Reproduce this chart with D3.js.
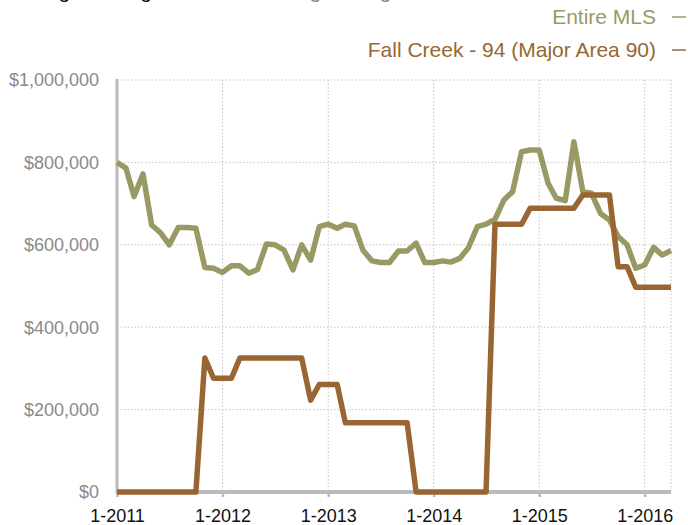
<!DOCTYPE html>
<html>
<head>
<meta charset="utf-8">
<script src="https://cdnjs.cloudflare.com/ajax/libs/d3/7.8.5/d3.min.js"></script>
<style>
  body { margin: 0; background: #fff; }
  svg { display: block; font-family: "Liberation Sans", Arial, sans-serif; }
</style>
</head>
<body>
<svg id="chart" width="688" height="525"></svg>
<script>
// monthly values, Jan 2011 .. Apr 2016 (thousands of $)
var entireMLS = [800, 786, 717, 772, 648, 629, 600, 642, 642, 640,
  545, 543, 533, 549, 549, 531, 540, 602, 600, 587,
  539, 600, 563, 644, 650, 640, 650, 646, 587, 561,
  557, 557, 585, 585, 604, 557, 557, 561, 558, 567,
  593, 644, 650, 662, 709, 729, 826, 830, 830, 749,
  713, 707, 850, 729, 725, 676, 660, 620, 600, 543,
  551, 594, 575, 586];

var fallCreek = [0, 0, 0, 0, 0, 0, 0, 0, 0, 0,
  325, 276, 276, 276, 325, 325, 325, 325, 325, 325,
  325, 325, 223, 261, 261, 261, 168, 168, 168, 168,
  168, 168, 168, 168, 0, 0, 0, 0, 0, 0,
  0, 0, 0, 650, 650, 650, 650, 689, 689, 689,
  689, 689, 689, 721, 721, 721, 721, 547, 547, 497,
  497, 497, 497, 497];

var seriesNames = ["Entire MLS", "Fall Creek - 94 (Major Area 90)"];
var yTicks = [0, 200000, 400000, 600000, 800000, 1000000];

var months = d3.timeMonth.range(new Date(2011, 0, 1), new Date(2016, 4, 1));

var svg = d3.select("#chart");
var pLeft = 117, pRight = 671, pTop = 80, pBottom = 492;

var x = d3.scaleTime().domain([months[0], months[months.length - 1]]).range([pLeft, pRight]);
var y = d3.scaleLinear().domain([0, 1000000]).range([pBottom, pTop]);

var green = "#999966", brown = "#996633";

// title, cut off by the top edge as in the original
svg.append("text").attr("x", 4).attr("y", -2).attr("font-size", 21)
  .call(t => {
    t.append("tspan").attr("fill", "#111").text("Average Pricing");
    t.append("tspan").attr("fill", "#888").text("  - 12-month rolling average");
  });

// grid
var grid = svg.append("g").attr("stroke", "#c4c4c4").attr("stroke-dasharray", "1.5,2").attr("stroke-width", 1);
grid.selectAll(".h").data(yTicks.slice(1)).enter().append("line")
  .attr("x1", pLeft).attr("x2", pRight).attr("y1", d => y(d)).attr("y2", d => y(d));
var years = x.ticks(d3.timeYear.every(1)).slice(1);
grid.selectAll(".v").data(years).enter().append("line")
  .attr("x1", d => x(d)).attr("x2", d => x(d)).attr("y1", pTop).attr("y2", pBottom);
grid.append("line").attr("x1", pRight).attr("x2", pRight).attr("y1", pTop).attr("y2", pBottom);

// y axis labels
svg.append("g").selectAll("text").data(yTicks).enter().append("text")
  .attr("x", 99).attr("y", d => y(d)).attr("dy", "0.35em")
  .attr("text-anchor", "end").attr("font-size", 18).attr("fill", "#8a8a8a")
  .text(d => "$" + d3.format(",")(d));

// x axis
var xAxis = svg.append("g").attr("transform", "translate(0," + pBottom + ")")
  .call(d3.axisBottom(x).ticks(d3.timeYear.every(1)).tickSize(5).tickPadding(12)
    .tickFormat(d => "1-" + d.getFullYear()));
xAxis.select(".domain").remove();
xAxis.selectAll(".tick line").attr("stroke", "#bbb").attr("stroke-width", 2.5);
xAxis.selectAll(".tick text").attr("font-size", 18).attr("fill", "#111")
  .attr("font-family", "Liberation Sans, Arial, sans-serif");

// axis lines
svg.append("line").attr("x1", pLeft).attr("x2", pLeft).attr("y1", pTop - 1).attr("y2", pBottom + 2)
  .attr("stroke", "#bbb").attr("stroke-width", 3);
svg.append("line").attr("x1", pLeft - 1).attr("x2", pRight).attr("y1", pBottom).attr("y2", pBottom)
  .attr("stroke", "#bbb").attr("stroke-width", 4);

// lines
var line = d3.line().x((d, i) => x(months[i])).y(d => y(d * 1000));
svg.append("path").datum(entireMLS).attr("d", line)
  .attr("fill", "none").attr("stroke", green).attr("stroke-width", 5.5).attr("stroke-linejoin", "round");
svg.append("path").datum(fallCreek).attr("d", line)
  .attr("fill", "none").attr("stroke", brown).attr("stroke-width", 5.5).attr("stroke-linejoin", "round");

// legend
var legend = svg.append("g").selectAll("g").data(seriesNames).enter().append("g")
  .attr("transform", (d, i) => "translate(0," + (17 + i * 33) + ")");
legend.append("text").attr("x", 656).attr("dy", "0.35em").attr("text-anchor", "end")
  .attr("font-size", 21).attr("fill", (d, i) => i ? brown : green).text(d => d);
legend.append("line").attr("x1", 672).attr("x2", 686).attr("y1", 0).attr("y2", 0)
  .attr("stroke", (d, i) => i ? brown : green).attr("stroke-width", 1.5);
</script>
</body>
</html>
